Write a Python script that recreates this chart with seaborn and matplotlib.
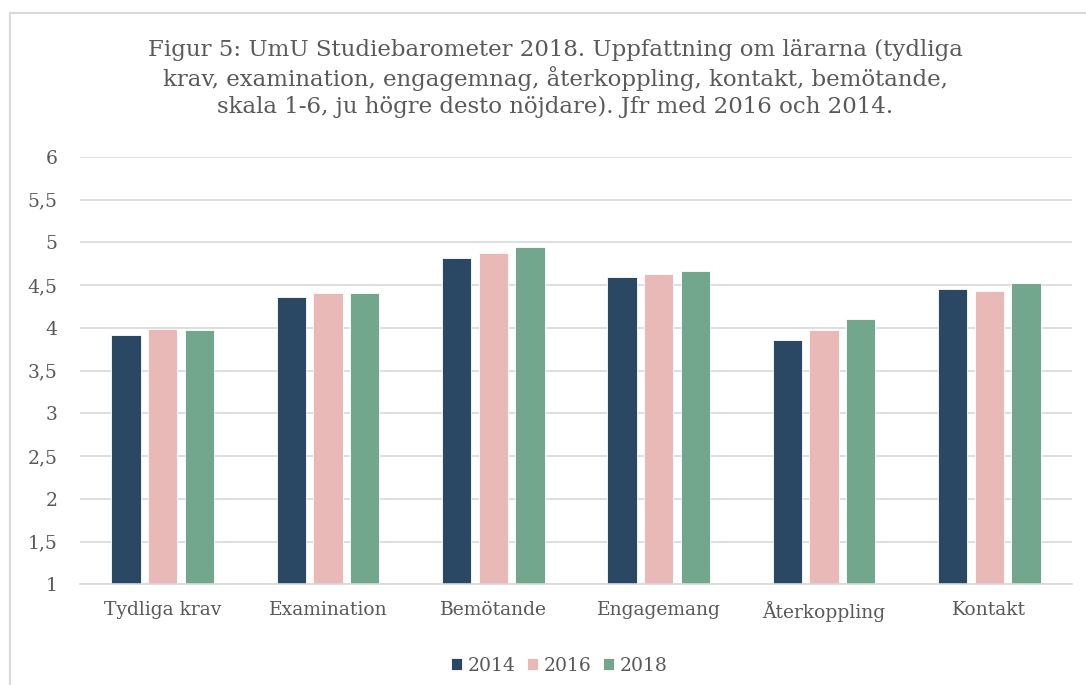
import matplotlib
matplotlib.use("Agg")
import matplotlib.pyplot as plt
import seaborn as sns
import pandas as pd
from matplotlib.lines import Line2D
from matplotlib.ticker import FuncFormatter

categories = ["Tydliga krav", "Examination", "Bemötande", "Engagemang", "Återkoppling", "Kontakt"]
years = ["2014", "2016", "2018"]
values_2014 = [3.92, 4.36, 4.82, 4.59, 3.86, 4.45]
values_2016 = [3.99, 4.41, 4.88, 4.63, 3.98, 4.43]
values_2018 = [3.97, 4.41, 4.94, 4.66, 4.10, 4.53]
colors = ["#2A4764", "#E9B9B7", "#72A78E"]

rows = []
for yr, vals in zip(years, [values_2014, values_2016, values_2018]):
    for c, v in zip(categories, vals):
        rows.append({"Kategori": c, "År": yr, "Värde": v})
df = pd.DataFrame(rows)

sns.set_theme(style="white")
plt.rcParams["font.family"] = ["DejaVu Serif"]

fig = plt.figure(figsize=(10.86, 6.85), dpi=100)
ax = fig.add_axes([0.0737, 0.147, 0.9134, 0.624])

sns.barplot(data=df, x="Kategori", y="Värde", hue="År", palette=colors,
            width=0.666, gap=0.2, ax=ax, edgecolor="white", linewidth=0.6,
            errorbar=None, saturation=1)

ax.set_ylim(1, 6)
ax.set_yticks([1, 1.5, 2, 2.5, 3, 3.5, 4, 4.5, 5, 5.5, 6])
ax.yaxis.set_major_formatter(FuncFormatter(lambda v, _: (f"{v:g}").replace(".", ",")))
ax.set_xlim(-0.5, 5.5)
ax.grid(axis="y", color="#d9d9d9", linewidth=1.2)
ax.set_axisbelow(True)
for s in ["top", "right", "left"]:
    ax.spines[s].set_visible(False)
ax.spines["bottom"].set_color("#d9d9d9")
ax.spines["bottom"].set_linewidth(1.2)
ax.tick_params(axis="both", length=0, labelsize=13.5, colors="#595959")
ax.tick_params(axis="x", pad=12)
ax.tick_params(axis="y", pad=16)
ax.set_xlabel("")
ax.set_ylabel("")

ax.legend(loc="upper center", bbox_to_anchor=(0.483, -0.13), ncol=3, frameon=False,
          fontsize=13.5, handlelength=0.6, handleheight=0.6, handletextpad=0.3,
          columnspacing=0.6, labelcolor="#595959")

fig.text(0.511, 0.886, "Figur 5: UmU Studiebarometer 2018. Uppfattning om lärarna (tydliga\n"
         "krav, examination, engagemnag, återkoppling, kontakt, bemötande,\n"
         "skala 1-6, ju högre desto nöjdare). Jfr med 2016 och 2014.",
         ha="center", va="center", fontsize=16.5, color="#595959", linespacing=1.27)

fig.add_artist(Line2D([0.0095, 0.0095], [0, 0.981], transform=fig.transFigure,
                      color="#d9d9d9", linewidth=1.5))
fig.add_artist(Line2D([0.0095, 1.0], [0.981, 0.981], transform=fig.transFigure,
                      color="#d9d9d9", linewidth=1.5))

fig.savefig("out.png", dpi=100)
